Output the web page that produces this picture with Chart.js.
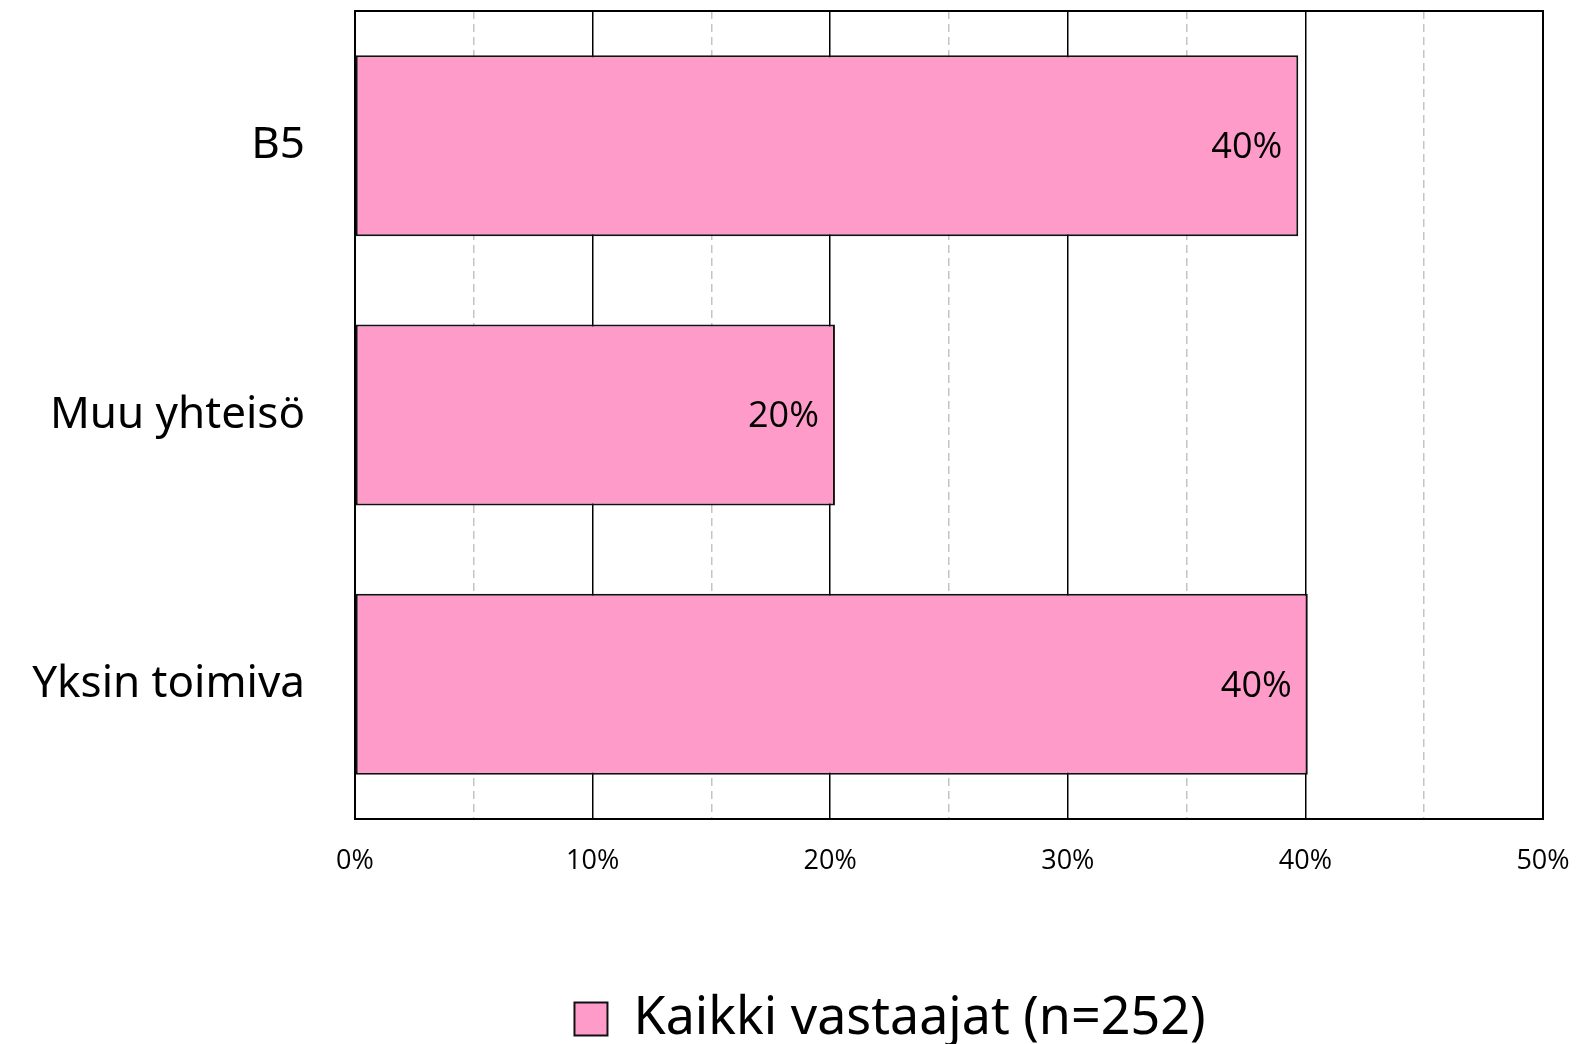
<!DOCTYPE html>
<html>
<head>
<meta charset="utf-8">
<script src="https://cdn.jsdelivr.net/npm/chart.js@4.4.1/dist/chart.umd.min.js"></script>
<style>
  html, body { margin: 0; padding: 0; background: #ffffff; }
  #wrap { width: 1580px; height: 1044px; }
</style>
</head>
<body>
<div id="wrap"><canvas id="c" width="1580" height="1044"></canvas></div>
<script>
const categories = ["B5", "Muu yhteisö", "Yksin toimiva"];
const seriesName = "Kaikki vastaajat (n=252)";
const seriesValues = [39.7, 20.2, 40.1];
const axisMin = 0;
const axisMax = 50;
const majorStep = 10;
const minorStep = 5;

const PINK = "#FF9BC8";
const AREA_BOTTOM = 819;

const barLabels = {
  id: "barLabels",
  afterDatasetsDraw(chart) {
    const ctx = chart.ctx;
    const meta = chart.getDatasetMeta(0);
    ctx.save();
    ctx.font = "36px 'Open Sans'";
    ctx.fillStyle = "#000";
    ctx.textAlign = "right";
    ctx.textBaseline = "middle";
    meta.data.forEach((bar, i) => {
      ctx.fillText(Math.round(seriesValues[i]) + "%", bar.x - 16, bar.y + 2);
    });
    ctx.restore();
  }
};

const frame = {
  id: "frame",
  afterDatasetsDraw(chart) {
    const a = chart.chartArea;
    const ctx = chart.ctx;
    ctx.save();
    ctx.strokeStyle = "#000";
    ctx.lineWidth = 2;
    ctx.strokeRect(a.left, a.top, a.right - a.left, a.bottom - a.top);
    ctx.restore();
  }
};

const legendShift = {
  id: "legendShift",
  beforeDraw(chart) {
    const lg = chart.legend;
    if (lg && !lg._shifted) {
      const d = 890 - (lg.left + lg.right) / 2;
      lg.left += d;
      lg.right += d;
      lg.top += 11;
      lg.bottom += 11;
      lg._shifted = true;
    }
  }
};

new Chart(document.getElementById("c"), {
  type: "bar",
  data: {
    labels: categories,
    datasets: [{
      label: seriesName,
      data: seriesValues,
      backgroundColor: PINK,
      borderColor: "#111",
      borderWidth: 2,
      borderSkipped: false,
      categoryPercentage: 1,
      barPercentage: 0.672
    }]
  },
  options: {
    indexAxis: "y",
    responsive: false,
    animation: false,
    layout: { padding: { top: 11, right: 37, left: 0, bottom: 0 } },
    scales: {
      x: {
        type: "linear",
        position: "bottom",
        min: axisMin,
        max: axisMax,
        afterFit(scale) {
          const lh = scale.chart.legend ? scale.chart.legend.height : 63;
          scale.height = 1044 - AREA_BOTTOM - lh;
          scale.paddingLeft = 0;
          scale.paddingRight = 0;
        },
        ticks: {
          stepSize: majorStep,
          padding: 26,
          color: "#000",
          font: { family: "'Open Sans'", size: 27 },
          callback: (v) => v + "%"
        },
        grid: { color: "#000", lineWidth: 1.5, drawTicks: false },
        border: { display: false }
      },
      x2: {
        type: "linear",
        position: "top",
        min: axisMin,
        max: axisMax,
        afterFit(scale) { scale.height = 0; scale.paddingLeft = 0; scale.paddingRight = 0; },
        ticks: { display: false, stepSize: minorStep },
        grid: {
          drawTicks: false,
          lineWidth: 1.5,
          color: (c) => (c.tick && c.tick.value % majorStep !== 0) ? "#c4c4c4" : "rgba(0,0,0,0)"
        },
        border: { display: false, dash: [8, 5] }
      },
      y: {
        afterFit(scale) {
          scale.width = 355;
          scale.paddingTop = 0;
          scale.paddingBottom = 0;
        },
        ticks: {
          padding: 50,
          color: "#000",
          font: { family: "'Noto Sans'", size: 44 }
        },
        grid: { display: false, drawTicks: false },
        border: { display: false }
      }
    },
    plugins: {
      legend: {
        position: "bottom",
        labels: {
          boxWidth: 33,
          boxHeight: 33,
          padding: 2,
          color: "#000",
          font: { family: "'Noto Sans'", size: 52 }
        }
      },
      tooltip: { enabled: false }
    }
  },
  plugins: [barLabels, frame, legendShift]
});
</script>
</body>
</html>
